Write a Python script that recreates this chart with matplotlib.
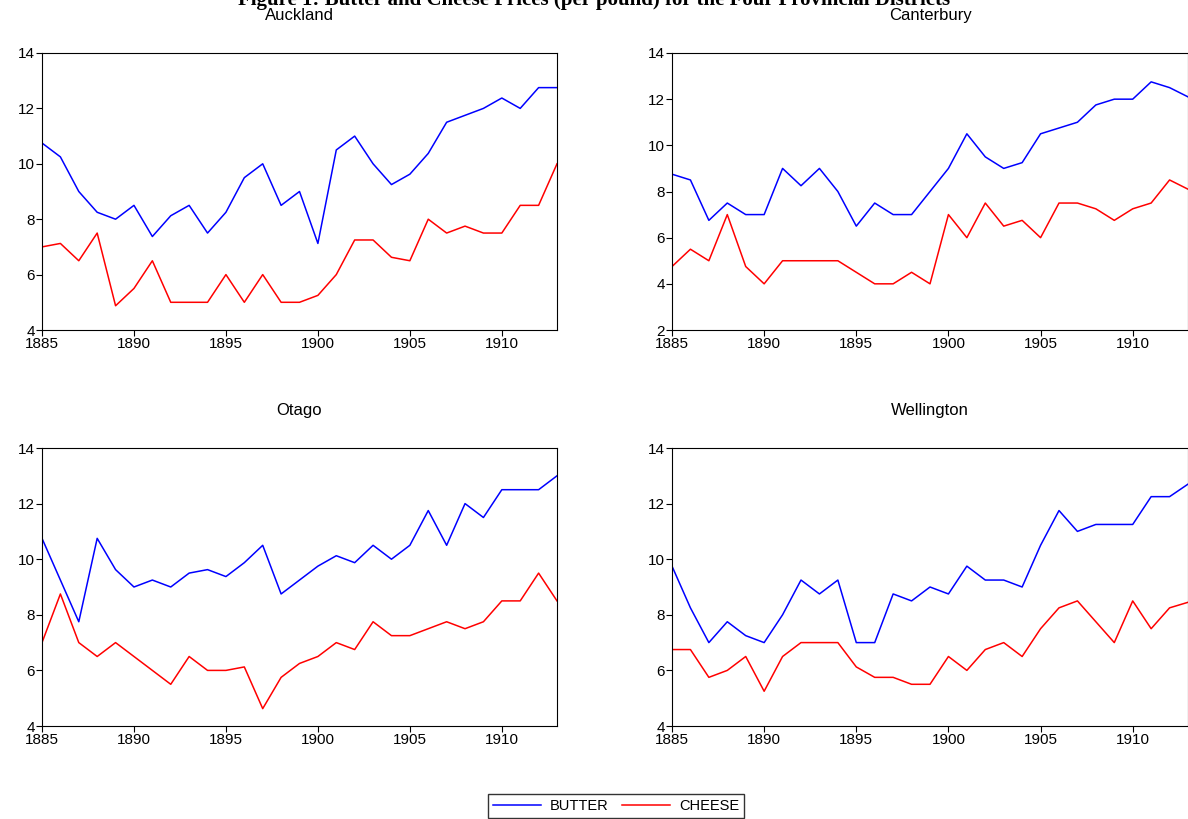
import numpy as np
import matplotlib
matplotlib.use("Agg")
from matplotlib import pyplot as plt

plt.rcParams['font.family'] = ['Liberation Sans', 'DejaVu Sans']

years = np.arange(1885, 1914)

auckland_butter = [10.75, 10.25, 9, 8.25, 8, 8.5, 7.375, 8.125, 8.5, 7.5, 8.25, 9.5, 10, 8.5, 9,
                   7.125, 10.5, 11, 10, 9.25, 9.625, 10.375, 11.5, 11.75, 12, 12.375, 12, 12.75, 12.75]
auckland_cheese = [7, 7.125, 6.5, 7.5, 4.875, 5.5, 6.5, 5, 5, 5, 6, 5, 6, 5, 5,
                   5.25, 6, 7.25, 7.25, 6.625, 6.5, 8, 7.5, 7.75, 7.5, 7.5, 8.5, 8.5, 10]
canterbury_butter = [8.75, 8.5, 6.75, 7.5, 7, 7, 9, 8.25, 9, 8, 6.5, 7.5, 7, 7, 8,
                     9, 10.5, 9.5, 9, 9.25, 10.5, 10.75, 11, 11.75, 12, 12, 12.75, 12.5, 12.1]
canterbury_cheese = [4.75, 5.5, 5, 7, 4.75, 4, 5, 5, 5, 5, 4.5, 4, 4, 4.5, 4,
                     7, 6, 7.5, 6.5, 6.75, 6, 7.5, 7.5, 7.25, 6.75, 7.25, 7.5, 8.5, 8.1]
otago_butter = [10.75, 9.25, 7.75, 10.75, 9.625, 9, 9.25, 9, 9.5, 9.625, 9.375, 9.875, 10.5, 8.75, 9.25,
                9.75, 10.125, 9.875, 10.5, 10, 10.5, 11.75, 10.5, 12, 11.5, 12.5, 12.5, 12.5, 13]
otago_cheese = [7, 8.75, 7, 6.5, 7, 6.5, 6, 5.5, 6.5, 6, 6, 6.125, 4.625, 5.75, 6.25,
                6.5, 7, 6.75, 7.75, 7.25, 7.25, 7.5, 7.75, 7.5, 7.75, 8.5, 8.5, 9.5, 8.5]
wellington_butter = [9.75, 8.25, 7, 7.75, 7.25, 7, 8, 9.25, 8.75, 9.25, 7, 7, 8.75, 8.5, 9,
                     8.75, 9.75, 9.25, 9.25, 9, 10.5, 11.75, 11, 11.25, 11.25, 11.25, 12.25, 12.25, 12.7]
wellington_cheese = [6.75, 6.75, 5.75, 6, 6.5, 5.25, 6.5, 7, 7, 7, 6.125, 5.75, 5.75, 5.5, 5.5,
                     6.5, 6, 6.75, 7, 6.5, 7.5, 8.25, 8.5, 7.75, 7, 8.5, 7.5, 8.25, 8.45]

panels = [("Auckland", auckland_butter, auckland_cheese, (4, 14)),
          ("Canterbury", canterbury_butter, canterbury_cheese, (2, 14)),
          ("Otago", otago_butter, otago_cheese, (4, 14)),
          ("Wellington", wellington_butter, wellington_cheese, (4, 14))]

W, H = 1188, 819
fig = plt.figure(figsize=(W / 100, H / 100), dpi=100)

# pixel boxes: left, top, width, height
boxes = [(42, 53, 515, 277), (672, 53, 516, 277),
         (42, 448, 515, 278), (672, 448, 516, 278)]

fig.text(0.5, 1.0, "Figure 1: Butter and Cheese Prices (per pound) for the Four Provincial Districts",
         ha='center', va='center', fontsize=15, fontweight='bold', family='Liberation Serif')

for (name, butter, cheese, ylim), (l, t, w, h) in zip(panels, boxes):
    ax = fig.add_axes([l / W, 1 - (t + h) / H, w / W, h / H])
    lb, = ax.plot(years, butter, color='#0000ff', lw=1.1)
    lc, = ax.plot(years, cheese, color='#ff0000', lw=1.1)
    ax.set_xlim(1885, 1913)
    ax.set_ylim(*ylim)
    ax.set_xticks(np.arange(1885, 1914, 5))
    ax.set_yticks(np.arange(ylim[0], 14.1, 2))
    ax.tick_params(axis='both', direction='out', labelsize=11, length=4, width=0.8, pad=1)
    ax.set_title(name, fontsize=12, pad=24)
    for s in ax.spines.values():
        s.set_linewidth(0.8)

fig.legend([lb, lc], ["BUTTER", "CHEESE"], loc='center', bbox_to_anchor=(616 / W, 1 - 806 / H),
           ncol=2, fontsize=10.5, frameon=True, fancybox=False, edgecolor='black',
           handlelength=3.3, columnspacing=0.9, handletextpad=0.6, borderpad=0.35)

fig.savefig("out.png", dpi=100)
